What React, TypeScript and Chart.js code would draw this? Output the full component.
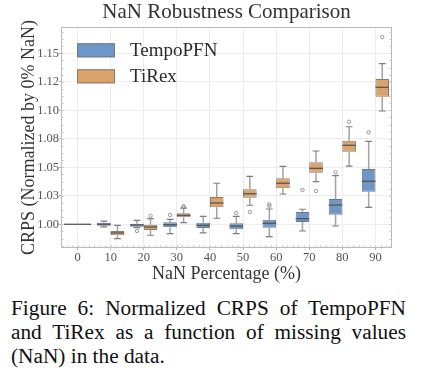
import React, { useEffect, useRef } from 'react';
import { Chart, registerables } from 'chart.js';

Chart.register(...registerables);

const SERIF = "'Liberation Serif', 'Times New Roman', serif";

const chartTitle = 'NaN Robustness Comparison';
const categories = ['0', '10', '20', '30', '40', '50', '60', '70', '80', '90'];
const yTickValues = [1.0, 1.025, 1.05, 1.075, 1.1, 1.125, 1.15];
const yTickLabels = ['1.00', '1.03', '1.05', '1.08', '1.10', '1.12', '1.15'];
const seriesNames = ['TempoPFN', 'TiRex'];

// TempoPFN box statistics
const tempoLow = [1.0, 0.9977, 0.997, 0.9918, 0.9924, 0.9918, 0.9891, 0.9941, 0.9985, 1.0149];
const tempoQ1 = [1.0, 0.9988, 0.9979, 0.9974, 0.9968, 0.9956, 0.997, 1.002, 1.0084, 1.0286];
const tempoMed = [1.0, 1.0, 0.9994, 0.9996, 0.9991, 0.9985, 1.0009, 1.0049, 1.0169, 1.0377];
const tempoQ3 = [1.0, 1.0014, 1.0005, 1.0018, 1.0014, 1.0009, 1.004, 1.0108, 1.0222, 1.0485];
const tempoHigh = [1.0, 1.0027, 1.0035, 1.0044, 1.007, 1.007, 1.0134, 1.0132, 1.0427, 1.0728];
const tempoOutliers = [[], [], [0.9941], [1.0082], [], [1.0099], [1.016, 1.0175], [1.0301], [1.0456], [1.0807]];

// TiRex box statistics
const tirexLow = [1.0, 0.9874, 0.9904, 1.0014, 1.0053, 1.0167, 1.0266, 1.0374, 1.0511, 1.0994];
const tirexQ1 = [1.0, 0.9904, 0.995, 1.0061, 1.0149, 1.0233, 1.0316, 1.0453, 1.0637, 1.112];
const tirexMed = [1.0, 0.9924, 0.9976, 1.0079, 1.0187, 1.0268, 1.036, 1.0491, 1.0693, 1.1202];
const tirexQ3 = [1.0, 0.9941, 0.9996, 1.0096, 1.0239, 1.0307, 1.0404, 1.0544, 1.0733, 1.1275];
const tirexHigh = [1.0, 0.9991, 1.0049, 1.0142, 1.036, 1.0421, 1.0509, 1.0643, 1.0856, 1.1409];
const tirexOutliers = [[], [], [1.0075], [1.0152, 1.0158], [], [1.0108], [], [1.0292], [1.09], [1.1643]];

const fills = ['#6e97c8', '#dba26c'];
const edges = ['#6d7a8a', '#8a7a6a'];

const boxStats = [
  { low: tempoLow, q1: tempoQ1, med: tempoMed, q3: tempoQ3, high: tempoHigh, out: tempoOutliers },
  { low: tirexLow, q1: tirexQ1, med: tirexMed, q3: tirexQ3, high: tirexHigh, out: tirexOutliers },
];

const boxPlugin = {
  id: 'boxWhiskers',
  beforeDatasetsDraw(chart: any) {
    const { ctx } = chart;
    const y = chart.scales.y;
    boxStats.forEach((st, di) => {
      const meta = chart.getDatasetMeta(di);
      meta.data.forEach((el: any, i: number) => {
        const { x, width } = el.getProps(['x', 'width'], true);
        ctx.save();
        ctx.strokeStyle = '#a3a3a3';
        ctx.lineWidth = 1.5;
        ctx.beginPath();
        ctx.moveTo(x, y.getPixelForValue(st.low[i]));
        ctx.lineTo(x, y.getPixelForValue(st.q1[i]));
        ctx.moveTo(x, y.getPixelForValue(st.q3[i]));
        ctx.lineTo(x, y.getPixelForValue(st.high[i]));
        ctx.stroke();
        if (st.high[i] !== st.low[i]) {
          ctx.strokeStyle = '#7d7d7d';
          ctx.lineWidth = 1.2;
          const cw = width * 0.25;
          ctx.beginPath();
          ctx.moveTo(x - cw, y.getPixelForValue(st.low[i]));
          ctx.lineTo(x + cw, y.getPixelForValue(st.low[i]));
          ctx.moveTo(x - cw, y.getPixelForValue(st.high[i]));
          ctx.lineTo(x + cw, y.getPixelForValue(st.high[i]));
          ctx.stroke();
        }
        ctx.restore();
      });
    });
  },
  afterDatasetsDraw(chart: any) {
    const { ctx } = chart;
    const y = chart.scales.y;
    boxStats.forEach((st, di) => {
      const meta = chart.getDatasetMeta(di);
      meta.data.forEach((el: any, i: number) => {
        const { x, width } = el.getProps(['x', 'width'], true);
        ctx.save();
        ctx.strokeStyle = '#555555';
        ctx.lineWidth = 1.3;
        const my = y.getPixelForValue(st.med[i]);
        ctx.beginPath();
        ctx.moveTo(x - width / 2, my);
        ctx.lineTo(x + width / 2, my);
        ctx.stroke();
        ctx.strokeStyle = '#8c8c8c';
        ctx.lineWidth = 0.9;
        st.out[i].forEach((v: number) => {
          ctx.beginPath();
          ctx.arc(x, y.getPixelForValue(v), 1.7, 0, Math.PI * 2);
          ctx.stroke();
        });
        ctx.restore();
      });
    });
  },
};

const framePlugin = {
  id: 'frame',
  afterDatasetsDraw(chart: any) {
    const { ctx, chartArea: a } = chart;
    const xs = chart.scales.x;
    const ys = chart.scales.y;
    ctx.save();
    ctx.strokeStyle = '#b9b9b9';
    ctx.lineWidth = 1;
    ctx.strokeRect(a.left + 0.5, a.top + 0.5, a.right - a.left - 1, a.bottom - a.top - 1);
    ctx.strokeStyle = '#c4c4c4';
    ctx.beginPath();
    for (let v = 0.98125; v < 1.175; v += 0.00625) {
      const py = Math.round(ys.getPixelForValue(v)) + 0.5;
      if (py < a.top || py > a.bottom) continue;
      ctx.moveTo(a.left, py);
      ctx.lineTo(a.left + 2.5, py);
      ctx.moveTo(a.right, py);
      ctx.lineTo(a.right - 2.5, py);
    }
    const step = xs.getPixelForValue(1) - xs.getPixelForValue(0);
    for (let k = -3; k <= 60; k++) {
      const px = Math.round(xs.getPixelForValue(0) + (k * step) / 6) + 0.5;
      if (px <= a.left || px >= a.right) continue;
      ctx.moveTo(px, a.bottom);
      ctx.lineTo(px, a.bottom - 2.5);
    }
    ctx.stroke();
    ctx.restore();
  },
};

const legendPlugin = {
  id: 'insideLegend',
  afterDraw(chart: any) {
    const { ctx, chartArea: a } = chart;
    ctx.save();
    seriesNames.forEach((name, i) => {
      const x0 = a.left + 16;
      const y0 = a.top + 16.3 + i * 26;
      ctx.fillStyle = fills[i];
      ctx.fillRect(x0, y0, 38, 14);
      ctx.strokeStyle = edges[i];
      ctx.lineWidth = 1;
      ctx.strokeRect(x0 + 0.5, y0 + 0.5, 37, 13);
      ctx.fillStyle = '#2a2a2a';
      ctx.font = `19px ${SERIF}`;
      ctx.textBaseline = 'middle';
      ctx.textAlign = 'left';
      ctx.fillText(name, a.left + 69, y0 + 7.5);
    });
    ctx.restore();
  },
};

const titlePlugin = {
  id: 'centeredTitle',
  afterDraw(chart: any) {
    const { ctx, chartArea: a } = chart;
    ctx.save();
    ctx.fillStyle = '#333333';
    ctx.font = `21px ${SERIF}`;
    ctx.textAlign = 'center';
    ctx.textBaseline = 'alphabetic';
    ctx.fillText(chartTitle, (a.left + a.right) / 2, 17.5);
    ctx.restore();
  },
};

export default function App() {
  const canvasRef = useRef<HTMLCanvasElement | null>(null);

  useEffect(() => {
    if (!canvasRef.current) return;
    const chart = new Chart(canvasRef.current, {
      type: 'bar',
      data: {
        labels: categories,
        datasets: boxStats.map((st, di) => ({
          label: seriesNames[di],
          data: categories.map((_, i) => [st.q1[i], st.q3[i]]),
          backgroundColor: fills[di],
          borderColor: edges[di],
          borderWidth: 1,
          borderSkipped: false,
          categoryPercentage: 0.82,
          barPercentage: 1.0,
        })),
      } as any,
      options: {
        animation: false,
        responsive: true,
        maintainAspectRatio: false,
        layout: { padding: { left: 0, right: 29, top: 27, bottom: 0 } },
        plugins: {
          legend: { display: false },
          tooltip: { enabled: false },
          title: { display: false },
        },
        scales: {
          x: {
            type: 'category',
            afterFit: (s: any) => { s.height = 42; },
            grid: { color: '#ececec', offset: false, tickLength: 2, tickColor: '#b9b9b9' },
            border: { display: false },
            ticks: { color: '#555555', padding: 0, font: { family: SERIF, size: 12.5 } },
            title: {
              display: true,
              text: 'NaN Percentage (%)',
              color: '#333333',
              font: { family: SERIF, size: 18, lineHeight: 1.2 },
              padding: { top: 0, bottom: 4.8 },
            },
          },
          y: {
            type: 'linear',
            min: 0.9792,
            max: 1.1731,
            afterFit: (s: any) => { s.width = 61; },
            afterBuildTicks: (s: any) => { s.ticks = yTickValues.map((v) => ({ value: v })); },
            grid: { color: '#ececec', tickLength: 2, tickColor: '#b9b9b9' },
            border: { display: false },
            ticks: {
              color: '#555555',
              padding: 0,
              font: { family: SERIF, size: 12.5 },
              callback: (_v: any, idx: number) => yTickLabels[idx],
            },
            title: {
              display: true,
              text: 'CRPS (Normalized by 0% NaN)',
              color: '#333333',
              font: { family: SERIF, size: 18, lineHeight: 1.2 },
              padding: { top: 18.5, bottom: 0 },
            },
          },
        },
      } as any,
      plugins: [boxPlugin, framePlugin, legendPlugin, titlePlugin],
    });
    return () => chart.destroy();
  }, []);

  const lineStyle: React.CSSProperties = { textAlign: 'justify', textAlignLast: 'justify', whiteSpace: 'nowrap' };

  return (
    <div style={{ position: 'absolute', left: 0, top: 0, width: 421, height: 378, background: '#ffffff' }}>
      <div style={{ position: 'absolute', left: 0, top: 0, width: 421, height: 290 }}>
        <canvas ref={canvasRef} />
      </div>
      <div
        style={{
          position: 'absolute',
          left: 11,
          top: 297,
          width: 395,
          fontFamily: SERIF,
          fontSize: 21.3,
          lineHeight: '23.8px',
          color: '#111111',
        }}
      >
        <div style={lineStyle}>Figure 6: Normalized CRPS of TempoPFN</div>
        <div style={lineStyle}>and TiRex as a function of missing values</div>
        <div style={{ textAlign: 'left' }}>(NaN) in the data.</div>
      </div>
    </div>
  );
}
